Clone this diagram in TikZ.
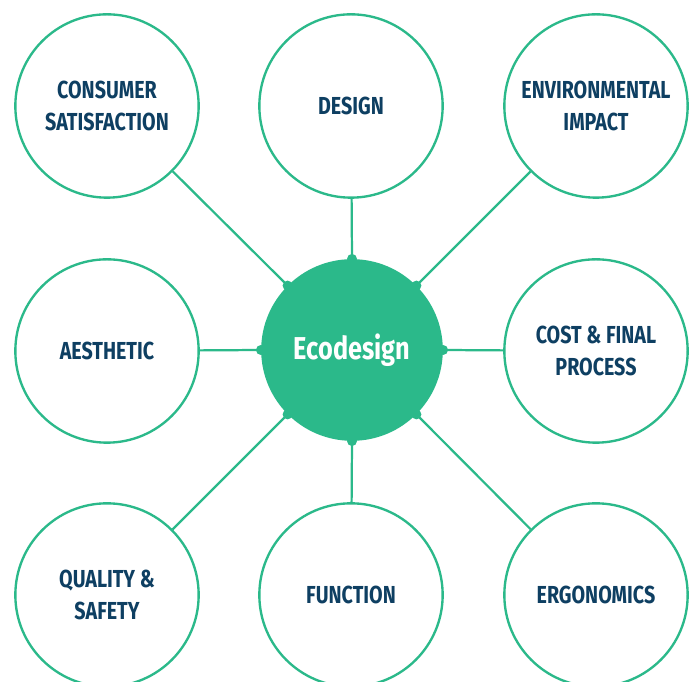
\documentclass[tikz,border=0pt]{standalone}
\usepackage{fontspec}
\setmainfont{Fira Sans}[FakeStretch=0.8]
\usepackage{tikz}
\usetikzlibrary{positioning}
\definecolor{ecogreen}{HTML}{2BB98A}
\definecolor{econavy}{HTML}{0E3F62}
\tikzset{x=0.03cm, y=0.03cm,
  topic/.style={circle, draw=ecogreen, line width=2pt, fill=white, minimum size=5.5cm,
    align=center, text=econavy, font=\fontsize{21}{26.5}\selectfont\bfseries},
  hub/.style={circle, fill=ecogreen, minimum size=5.45cm, text=white,
    font=\fontsize{27}{30}\selectfont\bfseries},
  link/.style={draw=ecogreen, line width=1.9pt},
  knot/.style={circle, fill=ecogreen, inner sep=0pt, minimum size=0.3cm}}

\begin{document}
\begin{tikzpicture}
    \clip (0,0) rectangle (697,682);
    \fill[white] (0,0) rectangle (697,682);
    % hub and the eight topics around it
    \node[hub] (eco) at (352,332) {Ecodesign};
    \node[topic] (cons) at (107,576) {CONSUMER\\SATISFACTION};
    \node[topic] (des) at (351,576) {DESIGN};
    \node[topic] (env) at (596,576) {ENVIRONMENTAL\\IMPACT};
    \node[topic] (aes) at (107,331) {AESTHETIC};
    \node[topic] (cost) at (596,331) {COST \& FINAL\\PROCESS};
    \node[topic] (qual) at (107,87) {QUALITY \&\\SAFETY};
    \node[topic] (func) at (351,87) {FUNCTION};
    \node[topic] (ergo) at (596,87) {ERGONOMICS};

    \foreach \t/\a in {cons/135, des/90, env/45, aes/180, cost/0, qual/225, func/270, ergo/315} {
        \draw[link] (eco.\a) -- (\t);
        \node[knot] at (eco.\a) {};
    }
\end{tikzpicture}
\end{document}
